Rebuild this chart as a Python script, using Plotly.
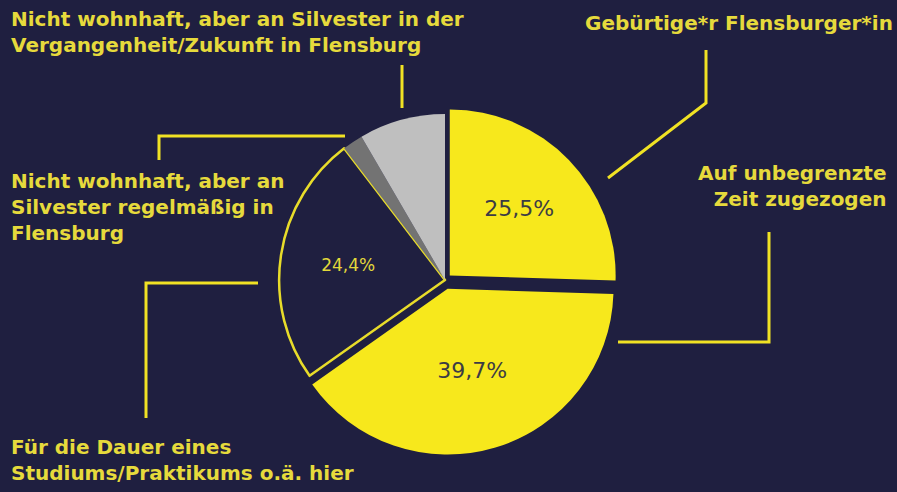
import plotly.graph_objects as go

# --- data ---
categories = [
    "Gebürtige*r Flensburger*in",
    "Auf unbegrenzte Zeit zugezogen",
    "Für die Dauer eines Studiums/Praktikums o.ä. hier",
    "Nicht wohnhaft, aber an Silvester regelmäßig in Flensburg",
    "Nicht wohnhaft, aber an Silvester in der Vergangenheit/Zukunft in Flensburg",
]
values = [25.5, 39.7, 24.4, 2.0, 8.4]
value_labels = ["25,5%", "39,7%", "24,4%", "", ""]

BG = "#1f1f40"
YEL = "#f7e81c"
TXT = "#e6da3c"
LINE = "#f0e224"
W, H = 897, 492

colors = [YEL, YEL, BG, "#737373", "#bfbfbf"]
line_colors = [BG, BG, "#e8dc2a", BG, BG]
line_widths = [0, 0, 2.5, 0, 0]
pulls = [0.04, 0.055, 0, 0, 0]
text_colors = ["#3c3c44", "#3c3c44", "#e2d83a", BG, BG]
text_sizes = [22, 22, 17, 10, 10]

FONT = "DejaVu Sans"

def px(x):
    return x / W

def py(y):
    return 1 - y / H

cx, cy, R = 445, 280, 175
fig = go.Figure(go.Pie(
    labels=categories,
    values=values,
    text=value_labels,
    textinfo="text",
    textposition="inside",
    insidetextorientation="horizontal",
    insidetextfont=dict(color=text_colors, size=text_sizes, family=FONT),
    sort=False,
    direction="clockwise",
    rotation=0,
    pull=pulls,
    marker=dict(colors=colors, line=dict(color=line_colors, width=line_widths)),
    domain=dict(x=[px(cx - R), px(cx + R)], y=[py(cy + R), py(cy - R)]),
    showlegend=False,
    hoverinfo="label+percent",
))

annotations = [
    dict(text="Nicht wohnhaft, aber an Silvester in der<br>Vergangenheit/Zukunft in Flensburg",
         x=px(9), y=py(5), xanchor="left", yanchor="top", align="left"),
    dict(text="Gebürtige*r Flensburger*in",
         x=px(895), y=py(9), xanchor="right", yanchor="top", align="right"),
    dict(text="Auf unbegrenzte<br>Zeit zugezogen",
         x=px(889), y=py(159), xanchor="right", yanchor="top", align="right"),
    dict(text="Nicht wohnhaft, aber an<br>Silvester regelmäßig in<br>Flensburg",
         x=px(9), y=py(167), xanchor="left", yanchor="top", align="left"),
    dict(text="Für die Dauer eines<br>Studiums/Praktikums o.ä. hier",
         x=px(9), y=py(433), xanchor="left", yanchor="top", align="left"),
]
for a in annotations:
    a.update(xref="paper", yref="paper", showarrow=False,
             font=dict(family=FONT, size=20, color=TXT, weight="bold"))

leaders = [
    [(402, 65), (402, 108)],
    [(706, 50), (706, 103), (608, 178)],
    [(769, 232), (769, 342), (618, 342)],
    [(159, 160), (159, 136), (345, 136)],
    [(146, 418), (146, 283), (258, 283)],
]
shapes = []
for pts in leaders:
    path = "M " + " L ".join(f"{px(x)},{py(y)}" for x, y in pts)
    shapes.append(dict(type="path", path=path, xref="paper", yref="paper",
                       line=dict(color=LINE, width=3)))

fig.update_layout(
    width=W, height=H,
    margin=dict(l=0, r=0, t=0, b=0),
    paper_bgcolor=BG, plot_bgcolor=BG,
    annotations=annotations,
    shapes=shapes,
)

fig.write_html("out.html", config={"displayModeBar": False},
               post_script="document.body.style.margin='0';")
